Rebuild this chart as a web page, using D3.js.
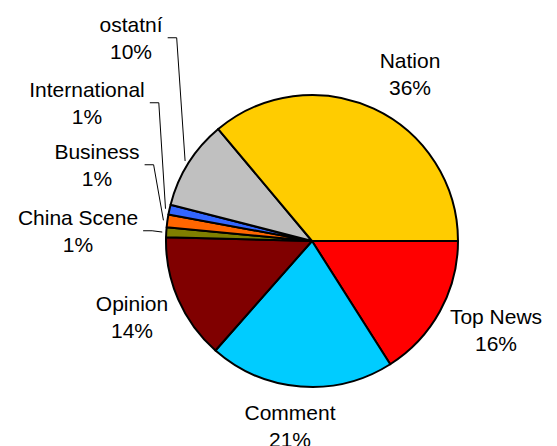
<!DOCTYPE html>
<html>
<head>
<meta charset="utf-8">
<script src="https://cdn.jsdelivr.net/npm/d3@7"></script>
<style>
  body { margin: 0; background: #fff; }
  text { font-family: Arial, "Liberation Sans", sans-serif; font-size: 21px; fill: #000; }
</style>
</head>
<body>
<script>
// slices in clockwise order, starting at 3 o'clock
const categories = ['Top News', 'Comment', 'Opinion', 'China Scene', 'Business', 'International', 'ostatní', 'Nation'];
const values = [16.0, 20.5, 13.9, 1.1, 1.4, 1.1, 9.9, 36.1];
const colors = ['#FF0000', '#00CCFF', '#800000', '#808000', '#FF6600', '#3366FF', '#C0C0C0', '#FFCC00'];

// label placement (center x, first baseline), like the hand-placed labels in the original
const labelPos = {
  'Top News': [496, 324],
  'Comment': [290, 420],
  'Opinion': [132, 311],
  'China Scene': [78, 225],
  'Business': [97, 159],
  'International': [87, 97],
  'ostatní': [131, 32],
  'Nation': [410, 68]
};
const leader = ['China Scene', 'Business', 'International', 'ostatní'];

const width = 557, height = 446;
const cx = 312, cy = 241, radius = 146;
const lineGap = 26.5;

const svg = d3.select('body').append('svg')
    .attr('width', width)
    .attr('height', height);

const data = categories.map(function(c, i) { return { name: c, value: values[i], color: colors[i] }; });

const pie = d3.pie()
    .sort(null)
    .value(function(d) { return d.value; })
    .startAngle(Math.PI / 2)
    .endAngle(Math.PI / 2 + 2 * Math.PI);

const arc = d3.arc().innerRadius(0).outerRadius(radius);
const arcs = pie(data);

const g = svg.append('g').attr('transform', 'translate(' + cx + ',' + cy + ')');

g.selectAll('path')
  .data(arcs)
  .enter().append('path')
    .attr('d', arc)
    .attr('fill', function(d) { return d.data.color; })
    .attr('stroke', '#000')
    .attr('stroke-width', 2)
    .attr('stroke-linejoin', 'round');

// labels
const labels = svg.append('g');
arcs.forEach(function(d) {
  const p = labelPos[d.data.name];
  const t = labels.append('text')
      .attr('text-anchor', 'middle');
  t.append('tspan').attr('x', p[0]).attr('y', p[1]).text(d.data.name);
  t.append('tspan').attr('x', p[0]).attr('y', p[1] + lineGap).text(Math.round(d.data.value) + '%');

  if (leader.indexOf(d.data.name) >= 0) {
    const bb = t.node().getBBox();
    const mid = (d.startAngle + d.endAngle) / 2;
    const r2 = radius + 4;
    const ex = cx + Math.sin(mid) * r2, ey = cy - Math.cos(mid) * r2;
    const sx = bb.x + bb.width + 5, sy = bb.y + bb.height / 2;
    labels.append('path')
        .attr('d', 'M' + sx + ',' + sy + 'H' + (sx + 9) + 'L' + ex + ',' + ey)
        .attr('fill', 'none')
        .attr('stroke', '#000')
        .attr('stroke-width', 1);
  }
});
</script>
</body>
</html>
